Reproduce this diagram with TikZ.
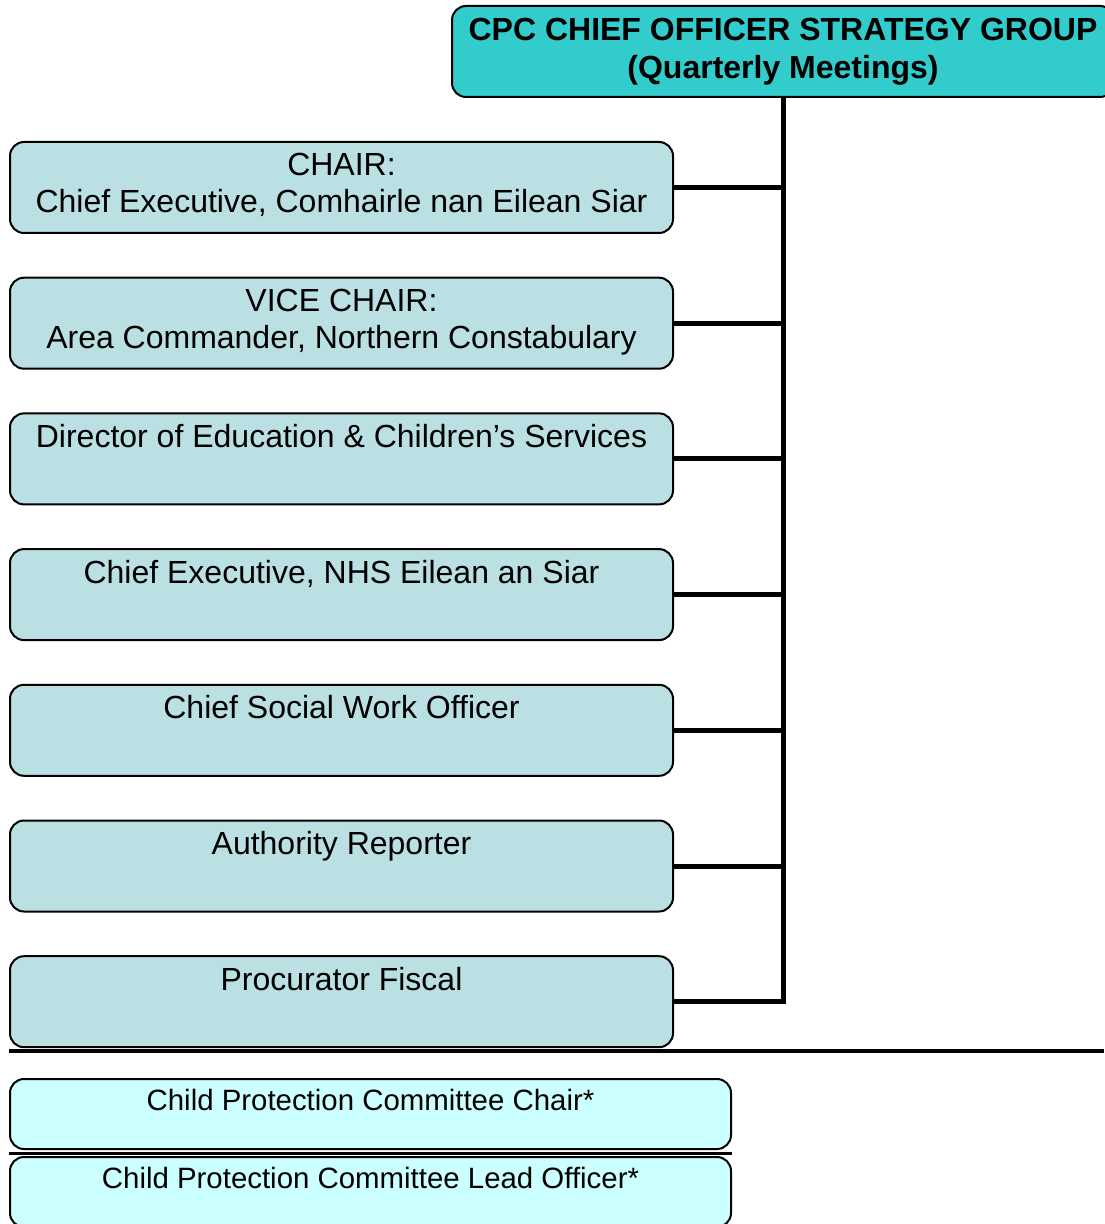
\documentclass[tikz,border=0pt]{standalone}
\usepackage{fontspec}
\setmainfont{Liberation Sans}
\usetikzlibrary{positioning}
\definecolor{groupfill}{HTML}{33CCCC}
\definecolor{memberfill}{HTML}{BBE0E3}
\definecolor{cpcfill}{HTML}{CCFFFF}

\begin{document}
\begin{tikzpicture}[x=0.5pt, y=-0.5pt,
  box/.style={draw=black, line width=1pt, rounded corners=7pt, inner sep=0pt, anchor=north west},
  member/.style={box, fill=memberfill, minimum width=331.5pt, minimum height=45.5pt},
  cpcbox/.style={box, fill=cpcfill, minimum width=360.5pt, minimum height=35pt},
  caption/.style={anchor=north, inner sep=0pt, align=center, font=\fontsize{16}{18.5}\selectfont},
  cpccaption/.style={caption, font=\fontsize{14.7}{18}\selectfont},
  link/.style={line width=2.5pt}]
  \useasboundingbox (0,0) rectangle (1104,1224);
  % strategy group
  \node[box, fill=groupfill, minimum width=331pt, minimum height=45.5pt, align=center,
        font=\bfseries\fontsize{16}{19}\selectfont] (head) at (451,5)
        {CPC CHIEF OFFICER STRATEGY GROUP\\(Quarterly Meetings)};
  % members
  \foreach \i/\txt in {1/{CHAIR:\\Chief Executive, Comhairle nan Eilean Siar},
                       2/{VICE CHAIR:\\Area Commander, Northern Constabulary},
                       3/{Director of Education \& Children’s Services},
                       4/{Chief Executive, NHS Eilean an Siar},
                       5/{Chief Social Work Officer},
                       6/{Authority Reporter},
                       7/{Procurator Fiscal}} {
    \node[member] (m\i) at (9,{141+135.7*(\i-1)}) {};
    \node[caption] (t\i) at ([yshift=-5.8pt]m\i.north) {\txt};
  }
  \foreach \i in {1,...,6}
    \draw[link] (m\i.east) -- (m\i.east -| head.south);
  \draw[link] (head.south) -- (head.south |- m7.east) -- (m7.east);
  % divider
  \coordinate (ruleL) at (9,1051);
  \coordinate (ruleR) at (1104,1051);
  \draw[line width=2pt] (ruleL) -- (ruleR);
  % committee
  \node[cpcbox] (cpcA) at (9,1078) {};
  \node[cpccaption] (tA) at ([yshift=-5.5pt]cpcA.north) {Child Protection Committee Chair*};
  \node[cpcbox] (cpcB) at (9,1156) {};
  \node[cpccaption] (tB) at ([yshift=-5.5pt]cpcB.north) {Child Protection Committee Lead Officer*};
  \draw[line width=1.5pt] ([yshift=1.5pt]cpcB.north west) -- ([yshift=1.5pt]cpcB.north east);
\end{tikzpicture}
\end{document}
